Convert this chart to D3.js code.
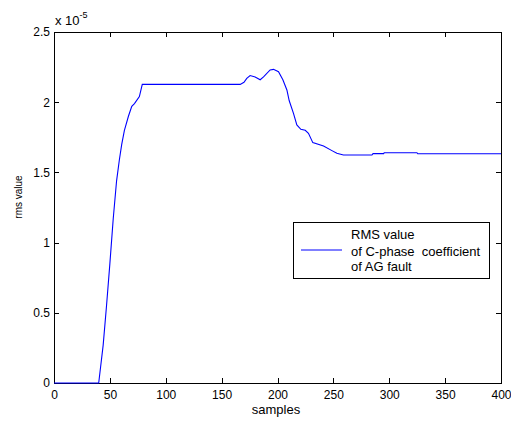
<!DOCTYPE html>
<html><head><meta charset="utf-8">
<script src="https://cdn.jsdelivr.net/npm/d3@7"></script>
<style>body{margin:0;background:#fff}svg{display:block}text{font-family:"Liberation Sans",Arial,sans-serif;fill:#000}</style>
</head><body>
<svg id="c" width="511" height="421"></svg>
<script>
// samples
const samples = [0,40,44,47,50,53,56,58.5,60.6,63,66.6,69.6,72,76.4,79,166.6,170,172.5,175.5,180,184.5,187.5,193.4,196.4,200.9,204.8,208.4,210.5,214.3,217.3,220.9,224.8,227.7,231.6,241.2,248.7,253.1,259,284.5,285.5,295,295.5,324.8,325.5,400];
// rms value (units of 1e-5)
const rms = [0,0,0.27,0.55,0.85,1.17,1.44,1.59,1.70,1.80,1.90,1.97,1.99,2.04,2.127,2.127,2.142,2.17,2.19,2.18,2.16,2.18,2.23,2.234,2.217,2.16,2.087,2.01,1.92,1.838,1.807,1.80,1.778,1.712,1.688,1.655,1.636,1.624,1.624,1.634,1.634,1.64,1.64,1.633,1.633];
const xTicks = [0,50,100,150,200,250,300,350,400];
const yTicks = [0,0.5,1,1.5,2,2.5];
const legendLines = ["RMS value","of C-phase  coefficient","of AG fault"];

const svg = d3.select("#c");
const L=54, R=501, T=32, B=383;
const x = d3.scaleLinear().domain([0,400]).range([L,R]);
const y = d3.scaleLinear().domain([0,2.5]).range([B,T]);
const fs = "12px";

// frame
svg.append("rect").attr("x",L).attr("y",T).attr("width",R-L).attr("height",B-T)
  .attr("fill","#fff").attr("stroke","#000").attr("stroke-width",1).attr("shape-rendering","crispEdges");

// axes
const gx = svg.append("g").attr("transform",`translate(0,${B})`)
  .call(d3.axisBottom(x).tickValues(xTicks).tickSize(-5).tickPadding(7).tickFormat(d3.format("d")));
const gxt = svg.append("g").attr("transform",`translate(0,${T})`)
  .call(d3.axisTop(x).tickValues(xTicks).tickSize(-5).tickFormat(""));
const gy = svg.append("g").attr("transform",`translate(${L},0)`)
  .call(d3.axisLeft(y).tickValues(yTicks).tickSize(-5).tickPadding(4).tickFormat(d=>String(d)));
const gyr = svg.append("g").attr("transform",`translate(${R},0)`)
  .call(d3.axisRight(y).tickValues(yTicks).tickSize(-5).tickFormat(""));
[gx,gxt,gy,gyr].forEach(g=>{
  g.select(".domain").attr("stroke","#000").attr("shape-rendering","crispEdges");
  g.selectAll(".tick line").attr("stroke","#000").attr("shape-rendering","crispEdges");
  g.selectAll("text").attr("font-size",fs).attr("font-family","Liberation Sans, Arial, sans-serif").attr("fill","#000");
});

// exponent
const ex = svg.append("text").attr("x",55).attr("y",25).attr("font-size","13px");
ex.append("tspan").text("x 10");
ex.append("tspan").attr("dy",-7).attr("font-size","9px").text("-5");

// labels
svg.append("text").attr("x",276).attr("y",414).attr("text-anchor","middle").attr("font-size","13px").text("samples");
svg.append("text").attr("transform","translate(21.5,197) rotate(-90)").attr("text-anchor","middle").attr("font-size","10px").text("rms value");

// line
const data = samples.map((s,i)=>[s,rms[i]]);
svg.append("path").datum(data)
  .attr("fill","none").attr("stroke","#0000ff").attr("stroke-width",1.1)
  .attr("d", d3.line().x(d=>x(d[0])).y(d=>y(d[1])));

// legend
const lg = svg.append("g");
lg.append("rect").attr("x",293).attr("y",222).attr("width",196).attr("height",56)
  .attr("fill","#fff").attr("stroke","#000").attr("stroke-width",1).attr("shape-rendering","crispEdges");
lg.append("line").attr("x1",301).attr("x2",342).attr("y1",250).attr("y2",250)
  .attr("stroke","#0000ff").attr("stroke-width",1);
const baselines=[238.5,256,270.5];
legendLines.forEach((t,i)=>{
  lg.append("text").attr("x",351).attr("y",baselines[i]).attr("font-size","13px")
    .attr("xml:space","preserve").style("white-space","pre").text(t);
});
</script>
</body></html>
